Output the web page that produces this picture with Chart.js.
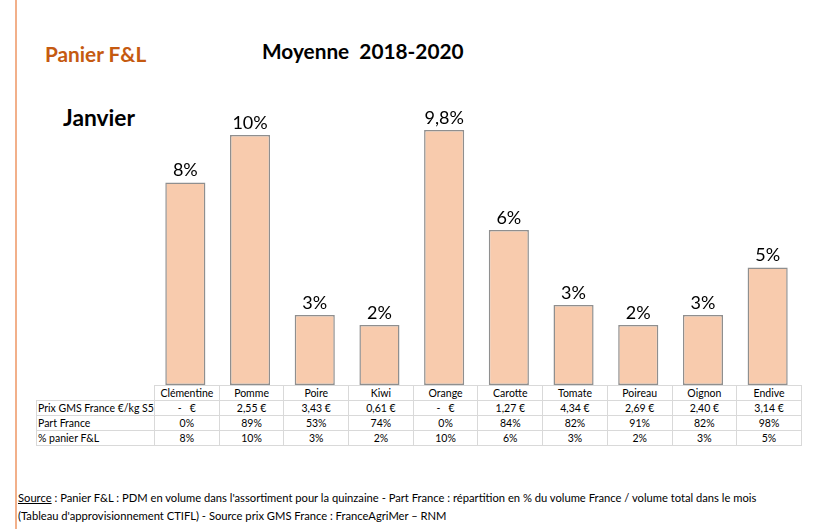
<html>
<head>
    <script src="https://cdn.jsdelivr.net/npm/chart.js@4.4.1/dist/chart.umd.min.js"></script>
    <style>
        body {
            margin: 0;
            width: 826px;
            height: 529px;
            background: #fff;
            font-family: Lato, "Noto Sans", sans-serif;
            color: #000;
            position: relative;
            overflow: hidden;
        }
        #leftLine {
            position: absolute;
            left: 15px;
            top: 0;
            width: 2px;
            height: 529px;
            background: #f2b08a;
        }
        .txt { position: absolute; white-space: nowrap; font-weight: bold; }
        #panier { left: 45px; top: 41px; font-size: 20.8px; color: #c55a11; }
        #moyenne { left: 262px; top: 38px; font-size: 20.8px; }
        #mois { left: 63px; top: 103px; font-size: 22.8px; }
        #chartBox {
            position: absolute;
            left: 153px;
            top: 100px;
            width: 647px;
            height: 285px;
        }
        #tbl {
            position: absolute;
            left: 36px;
            top: 385px;
            border-collapse: collapse;
            table-layout: fixed;
            font-size: 10.5px;
        }
        #tbl td {
            border: 1px solid #d9d9d9;
            height: 15px;
            padding: 0;
            text-align: center;
            white-space: pre;
            overflow: hidden;
        }
        #tbl td.lab { text-align: left; padding-left: 1px; }
        #tbl td.empty { border: none; }
        #footer {
            position: absolute;
            left: 18px;
            top: 489px;
            font-size: 11.2px;
            line-height: 18px;
            white-space: nowrap;
        }
    </style>
</head>
<body>
    <div id="leftLine"></div>
    <div id="panier" class="txt">Panier F&amp;L</div>
    <div id="moyenne" class="txt">Moyenne&nbsp; 2018-2020</div>
    <div id="mois" class="txt">Janvier</div>
    <div id="chartBox"><canvas id="barChart"></canvas></div>
    <table id="tbl"></table>
    <div id="footer">
        <u>Source</u> : Panier F&amp;L : PDM en volume dans l'assortiment pour la quinzaine - Part France : répartition en % du volume France / volume total dans le mois<br>
        (Tableau d'approvisionnement CTIFL) - Source prix GMS France : FranceAgriMer – RNM
    </div>
    <script>
        const produits = ["Clémentine", "Pomme", "Poire", "Kiwi", "Orange", "Carotte", "Tomate", "Poireau", "Oignon", "Endive"];
        const panier = [8.1, 10.0, 2.8, 2.4, 10.2, 6.2, 3.2, 2.4, 2.8, 4.7];
        const etiquettes = ["8%", "10%", "3%", "2%", "9,8%", "6%", "3%", "2%", "3%", "5%"];
        const prixGMS = ["-   €", "2,55 €", "3,43 €", "0,61 €", "-   €", "1,27 €", "4,34 €", "2,69 €", "2,40 €", "3,14 €"];
        const partFrance = ["0%", "89%", "53%", "74%", "0%", "84%", "82%", "91%", "82%", "98%"];
        const panierTxt = ["8%", "10%", "3%", "2%", "10%", "6%", "3%", "2%", "3%", "5%"];

        // tableau sous le graphique
        const tbl = document.getElementById("tbl");
        function addRow(label, values) {
            const tr = document.createElement("tr");
            const first = document.createElement("td");
            first.className = label ? "lab" : "empty";
            first.style.width = "116px";
            first.textContent = label;
            tr.appendChild(first);
            values.forEach(v => {
                const td = document.createElement("td");
                td.style.width = "63.7px";
                td.textContent = v;
                tr.appendChild(td);
            });
            tbl.appendChild(tr);
        }
        addRow("", produits);
        addRow("Prix GMS France €/kg S5", prixGMS);
        addRow("Part France", partFrance);
        addRow("% panier F&L", panierTxt);

        const labelPlugin = {
            id: "barLabels",
            afterDatasetsDraw(chart) {
                const ctx = chart.ctx;
                const meta = chart.getDatasetMeta(0);
                ctx.save();
                ctx.font = "18px Lato, 'Noto Sans', sans-serif";
                ctx.fillStyle = "#000";
                ctx.textAlign = "center";
                ctx.textBaseline = "bottom";
                meta.data.forEach((bar, i) => {
                    ctx.fillText(etiquettes[i], bar.x, bar.y - 3);
                });
                ctx.restore();
            }
        };

        new Chart(document.getElementById("barChart"), {
            type: "bar",
            data: {
                labels: produits,
                datasets: [{
                    data: panier,
                    backgroundColor: "#f8cbad",
                    borderColor: "#8f8f8f",
                    borderWidth: 1.5,
                    borderSkipped: false,
                    barPercentage: 0.62,
                    categoryPercentage: 1
                }]
            },
            options: {
                responsive: true,
                maintainAspectRatio: false,
                animation: false,
                layout: { padding: 0 },
                scales: {
                    x: { display: false },
                    y: { display: false, min: 0, max: 11.4 }
                },
                plugins: {
                    legend: { display: false },
                    tooltip: { enabled: false }
                }
            },
            plugins: [labelPlugin]
        });
    </script>
</body>
</html>
